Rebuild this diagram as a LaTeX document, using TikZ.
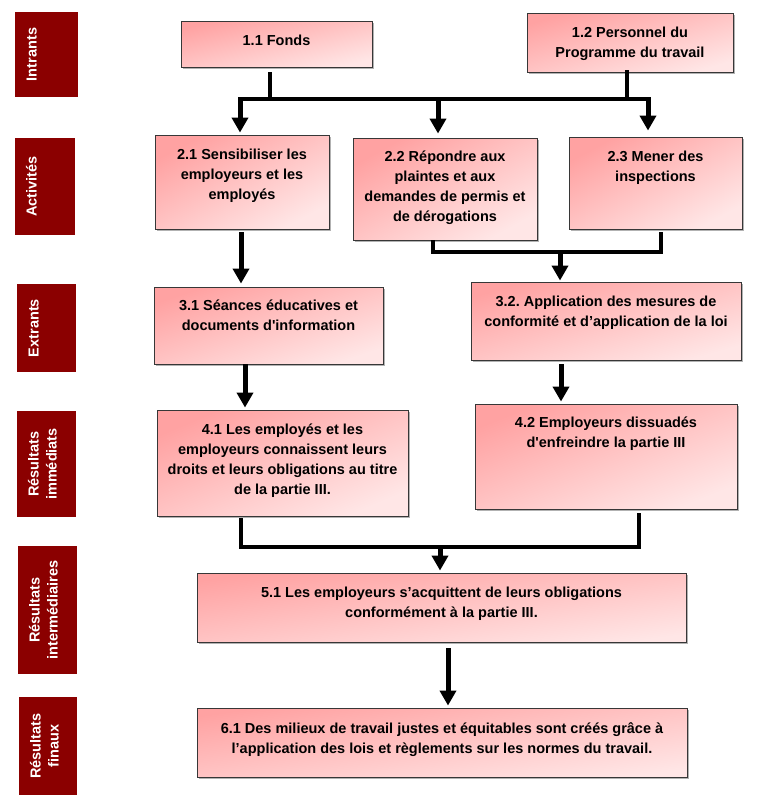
\documentclass[tikz,border=0pt]{standalone}
\usepackage{fontspec}
\setmainfont{Liberation Sans}[Ligatures=TeXOff]
\usetikzlibrary{arrows.meta,shadows}
\definecolor{labred}{RGB}{139,0,0}
\definecolor{pinkA}{RGB}{255,162,162}
\definecolor{pinkB}{RGB}{255,230,230}
\definecolor{boxline}{RGB}{55,55,55}
\frenchspacing
\tikzset{
  box/.style={draw=boxline, line width=0.9pt, top color=pinkA, bottom color=pinkB,
    shading angle=#1, inner sep=0pt,
    drop shadow={shadow xshift=1.5pt, shadow yshift=-1.5pt, opacity=0.3, fill=black}},
  txt/.style={font=\bfseries\fontsize{14.5}{20}\selectfont\frenchspacing, align=center, inner sep=0pt, anchor=north},
  lab/.style={fill=labred, draw=none, inner sep=0pt},
  labtxt/.style={text=white, font=\bfseries\fontsize{14.5}{18}\selectfont, align=center,
    inner sep=0pt, rotate=90, anchor=north},
  conn/.style={line width=3.2pt, line join=miter},
  arr/.style={line width=5pt, -{Triangle[width=16pt,length=15pt]}}
}
\newcommand{\fst}{\rule{0pt}{25pt}}
\newcommand{\lst}{\rule{0pt}{11pt}}
\begin{document}
\begin{tikzpicture}[x=1pt,y=-1pt]
\useasboundingbox (0,0) rectangle (757,795);
% side labels
\node[lab, minimum width=63pt, minimum height=85pt] (L1) at (46.5,54.5) {};
\node[labtxt] (T1) at ([xshift=10.5pt]L1.west) {\lst Intrants};
\node[lab, minimum width=60pt, minimum height=97pt] (L2) at (45,186.5) {};
\node[labtxt] (T2) at ([xshift=10.5pt]L2.west) {\lst Activités};
\node[lab, minimum width=59pt, minimum height=88pt] (L3) at (46.5,328) {};
\node[labtxt] (T3) at ([xshift=10.5pt]L3.west) {\lst Extrants};
\node[lab, minimum width=59pt, minimum height=106pt] (L4) at (46.5,464) {};
\node[labtxt] (T4) at ([xshift=10.5pt]L4.west) {\lst Résultats\\immédiats};
\node[lab, minimum width=59pt, minimum height=128pt] (L5) at (47.5,610) {};
\node[labtxt] (T5) at ([xshift=10.5pt]L5.west) {\lst Résultats\\intermédiaires};
\node[lab, minimum width=58pt, minimum height=98pt] (L6) at (48,746) {};
\node[labtxt] (T6) at ([xshift=10.5pt]L6.west) {\lst Résultats\\finaux};
% boxes
\node[box=13.5, minimum width=191pt, minimum height=46pt] (b11) at (276.5,44) {};
\node[txt] (t11) at (b11.north) {\fst 1.1 Fonds};
\node[box=16, minimum width=206pt, minimum height=59pt] (b12) at (630,42.5) {};
\node[txt] (t12) at (b12.north) {\fst 1.2 Personnel du\\Programme du travail};
\node[box=28.4, minimum width=174pt, minimum height=94pt] (b21) at (242,182) {};
\node[txt] (t21) at (b21.north) {\fst 2.1 Sensibiliser les\\employeurs et les\\employés};
\node[box=29, minimum width=184pt, minimum height=102pt] (b22) at (445,189) {};
\node[txt] (t22) at (b22.north) {\rule{0pt}{24pt}2.2 Répondre aux\\plaintes et aux\\demandes de permis et\\de dérogations};
\node[box=28, minimum width=173pt, minimum height=92pt] (b23) at (655.5,183) {};
\node[txt] (t23) at (b23.north) {\fst 2.3 Mener des\\inspections};
\node[box=18.6, minimum width=229pt, minimum height=77pt] (b31) at (268.5,325.5) {};
\node[txt] (t31) at (b31.north) {\rule{0pt}{24pt}3.1 Séances éducatives et\\documents d'information};
\node[box=16.1, minimum width=270pt, minimum height=78pt] (b32) at (606,321) {};
\node[txt] (t32) at (b32.north) {\fst 3.2. Application des mesures de\\conformité et d’application de la loi};
\node[box=22.9, minimum width=251pt, minimum height=106pt] (b41) at (282.5,463) {};
\node[txt] (t41) at (b41.north) {\fst 4.1 Les employés et les\\employeurs connaissent leurs\\droits et leurs obligations au titre\\de la partie III.};
\node[box=21.8, minimum width=262pt, minimum height=105pt] (b42) at (606,456.5) {};
\node[txt] (t42) at (b42.north) {\rule{0pt}{24pt}4.2 Employeurs dissuadés\\d'enfreindre la partie III};
\node[box=8, minimum width=489pt, minimum height=69pt] (b51) at (441.5,607.5) {};
\node[txt] (t51) at (b51.north) {\fst 5.1 Les employeurs s’acquittent de leurs obligations\\conformément à la partie III.};
\node[box=8, minimum width=490pt, minimum height=69pt] (b61) at (442,742.5) {};
\node[txt] (t61) at (b61.north) {\rule{0pt}{26pt}6.1 Des milieux de travail justes et équitables sont créés grâce à\\l’application des lois et règlements sur les normes du travail.};
% connectors level 1 -> 2
\coordinate (j1) at (270,99);
\coordinate (j2) at (627,99);
\coordinate (barL) at (240,99);
\coordinate (barM) at (438,99);
\coordinate (barR) at (648,99);
\draw[conn] (barL) -- (barR);
\draw[conn] ([yshift=-5pt]b11.south -| j1) -- (j1);
\draw[conn] ([yshift=2pt]b12.south -| j2) -- (j2);
\draw[arr, shorten >=2pt] ([yshift=1.6pt]barL) -- (barL |- b21.north);
\draw[arr, shorten >=4pt] ([yshift=1.6pt]barM) -- (barM |- b22.north);
\draw[arr, shorten >=6pt] ([yshift=1.6pt]barR) -- (barR |- b23.north);
% level 2 -> 3
\coordinate (a21) at (241,0);
\draw[arr, shorten >=3pt] ([yshift=-3pt]b21.south -| a21) -- (a21 |- b31.north);
\coordinate (c22) at (433,252);
\coordinate (c23) at (661,252);
\coordinate (c32) at (560,252);
\draw[conn] (b22.south -| c22) -- (c22) -- (c23) -- ([yshift=-3pt]b23.south -| c23);
\draw[arr, shorten >=1pt] ([yshift=1.6pt]c32) -- (c32 |- b32.north);
% level 3 -> 4
\coordinate (a31) at (245,0);
\coordinate (a32) at (561,0);
\draw[arr, shorten >=2pt] (b31.south -| a31) -- (a31 |- b41.north);
\draw[arr, shorten >=2pt] ([yshift=-4pt]b32.south -| a32) -- (a32 |- b42.north);
% level 4 -> 5
\coordinate (c41) at (241,547);
\coordinate (c42) at (639,547);
\coordinate (c51) at (440,547);
\draw[conn] ([yshift=-2pt]b41.south -| c41) -- (c41) -- (c42) -- ([yshift=-4pt]b42.south -| c42);
\draw[arr, shorten >=2pt] ([yshift=1.6pt]c51) -- (c51 |- b51.north);
% level 5 -> 6
\coordinate (a51) at (448,0);
\draw[arr, shorten >=2pt] ([yshift=-6pt]b51.south -| a51) -- (a51 |- b61.north);
\end{tikzpicture}
\end{document}
